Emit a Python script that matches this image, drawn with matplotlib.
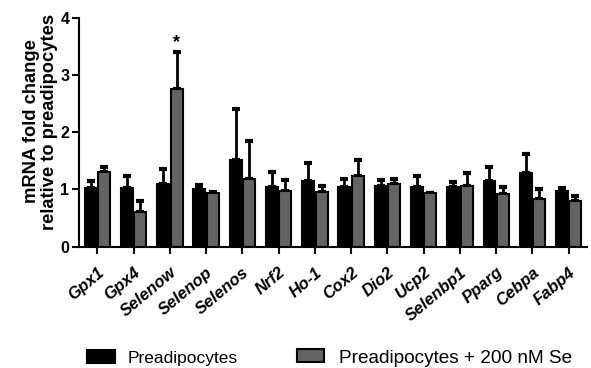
import matplotlib
matplotlib.use("Agg")
import matplotlib.pyplot as plt
import matplotlib.transforms as mtransforms
import numpy as np
from matplotlib.patches import Patch

genes = ["Gpx1", "Gpx4", "Selenow", "Selenop", "Selenos", "Nrf2", "Ho-1", "Cox2",
         "Dio2", "Ucp2", "Selenbp1", "Pparg", "Cebpa", "Fabp4"]
preadipocytes = [1.03, 1.02, 1.09, 1.01, 1.51, 1.04, 1.14, 1.04, 1.06, 1.05, 1.04, 1.14, 1.28, 0.97]
preadipocytes_err = [0.11, 0.21, 0.27, 0.06, 0.90, 0.27, 0.32, 0.15, 0.11, 0.19, 0.09, 0.26, 0.34, 0.05]
selenium = [1.30, 0.61, 2.76, 0.93, 1.18, 0.97, 0.95, 1.23, 1.10, 0.93, 1.06, 0.92, 0.83, 0.79]
selenium_err = [0.10, 0.18, 0.64, 0.03, 0.66, 0.20, 0.11, 0.29, 0.09, 0.01, 0.22, 0.12, 0.18, 0.09]
series_labels = ["Preadipocytes", "Preadipocytes + 200 nM Se"]
significant = {"Selenow": 3.57}

plt.rcParams['font.family'] = ['Liberation Sans', 'DejaVu Sans']

fig = plt.figure(figsize=(5.91, 3.68), dpi=100)
ax = fig.add_axes([0.134, 0.33, 0.859, 0.621])

x = np.arange(len(genes))
w = 0.33
off = 0.185
gray = "#646464"

ax.bar(x - off, preadipocytes, width=w, color="black", edgecolor="black", linewidth=1.5, zorder=2)
ax.bar(x + off, selenium, width=w, color=gray, edgecolor="black", linewidth=1.5, zorder=2)
ekw = dict(fmt="none", ecolor="black", elinewidth=2.0, capsize=3.2, capthick=3.0, zorder=1)
ax.errorbar(x - off, preadipocytes, yerr=[np.zeros(len(x)), preadipocytes_err], **ekw)
ax.errorbar(x + off, selenium, yerr=[np.zeros(len(x)), selenium_err], **ekw)

for g, yv in significant.items():
    i = genes.index(g)
    ax.text(i + off, yv, "*", ha="center", va="center", fontsize=13, fontweight="bold")

ax.set_xlim(-0.5, 13.5)
ax.set_ylim(0, 4)
ax.set_yticks([0, 1, 2, 3, 4])
ax.set_yticklabels(["0", "1", "2", "3", "4"], fontsize=11.5, fontweight="bold")
ax.set_xticks(x)
ax.set_xticklabels(genes, rotation=40, ha="right", rotation_mode="anchor",
                   fontsize=12, fontweight="bold", fontstyle="italic")
shift = mtransforms.ScaledTranslation(-4 / 100, 0, fig.dpi_scale_trans)
for lab in ax.get_xticklabels():
    lab.set_transform(lab.get_transform() + shift)
for s in ["top", "right"]:
    ax.spines[s].set_visible(False)
for s in ["left", "bottom"]:
    ax.spines[s].set_linewidth(1.5)
ax.tick_params(axis="both", direction="out", length=5, width=1.5, pad=2)
ax.tick_params(axis="x", pad=8)
ax.set_ylabel("mRNA fold change\nrelative to preadipocytes", fontsize=13.2, fontweight="bold",
              linespacing=1.05, labelpad=2)
ax.yaxis.label.set_y(0.547)

y_leg = 1 - 358 / 368
leg1 = fig.legend([Patch(facecolor="black", edgecolor="black", linewidth=1.5)], [series_labels[0]],
                  loc="center left", bbox_to_anchor=(87 / 591, y_leg), frameon=False,
                  fontsize=12.5, handlelength=1.6, handleheight=0.75, handletextpad=0.75,
                  borderpad=0, borderaxespad=0)
leg2 = fig.legend([Patch(facecolor=gray, edgecolor="black", linewidth=1.5)], [series_labels[1]],
                  loc="center left", bbox_to_anchor=(297 / 591, y_leg), frameon=False,
                  fontsize=13.7, handlelength=1.42, handleheight=0.68, handletextpad=0.79,
                  borderpad=0, borderaxespad=0)

fig.savefig("out.png", dpi=100)
